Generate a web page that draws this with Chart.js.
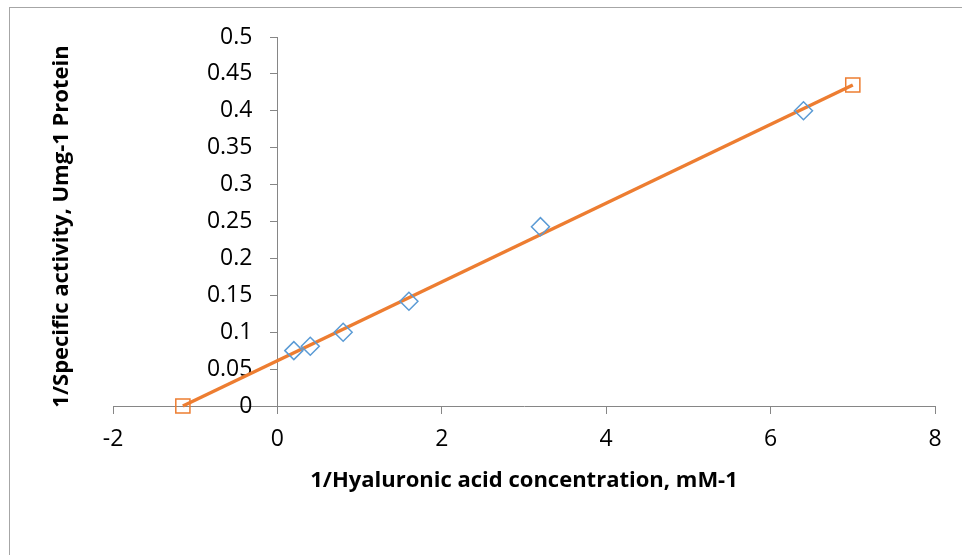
<!DOCTYPE html>
<html>
<head>
<meta charset="utf-8">
<script src="https://cdn.jsdelivr.net/npm/chart.js@4/dist/chart.umd.min.js"></script>
<style>
  body { margin: 0; background: #fff; overflow: hidden; }
  #wrap { position: relative; width: 962px; height: 555px; }
  #frame { position: absolute; left: 9px; top: 7px; width: 1100px; height: 700px; border: 1px solid #a6a6a6; }
  canvas { position: absolute; left: 0; top: 0; }
</style>
</head>
<body>
<div id="wrap">
  <div id="frame"></div>
  <canvas id="plot" width="962" height="555"></canvas>
</div>
<script>
// measured points
const xValues = [0.2, 0.4, 0.8, 1.6, 3.2, 6.4];
const yValues = [0.075, 0.081, 0.1, 0.142, 0.243, 0.4];
// fitted line end points
const lineX = [-1.15, 7];
const lineY = [0, 0.435];
// tick labels
const xTicks = [-2, 0, 2, 4, 6, 8];
const yTicks = [0, 0.05, 0.1, 0.15, 0.2, 0.25, 0.3, 0.35, 0.4, 0.45, 0.5];

const xTitle = '1/Hyaluronic acid concentration, mM-1';
const yTitle = '1/Specific activity, Umg-1 Protein';

const FONT = '"Open Sans", "Noto Sans", sans-serif';

// a y axis sitting at x = 0 puts its labels on the line, push them left of the tick marks
class CrossLinear extends Chart.LinearScale {
  static id = 'crossLinear';
  static defaults = Chart.LinearScale.defaults;
  _computeLabelItems(chartArea) {
    const items = super._computeLabelItems(chartArea);
    if (this.axis === 'y') {
      const shift = this.options.grid.tickLength + this.options.ticks.padding;
      items.forEach(it => { it.options.translation[0] -= shift; });
    }
    return items;
  }
}
Chart.register(CrossLinear);

// axis titles drawn beside the chart area
const titles = {
  id: 'titles',
  afterDraw(chart) {
    const { ctx, chartArea } = chart;
    ctx.save();
    ctx.fillStyle = '#000';
    ctx.font = 'bold 22px ' + FONT;
    ctx.textAlign = 'center';
    ctx.textBaseline = 'middle';
    ctx.fillText(xTitle, (chartArea.left + chartArea.right) / 2, chartArea.bottom + 75);
    ctx.translate(chartArea.left - 51, (chartArea.top + chartArea.bottom) / 2 + 5);
    ctx.rotate(-Math.PI / 2);
    ctx.fillText(yTitle, 0, 0);
    ctx.restore();
  }
};

function toPoints(xs, ys) {
  return xs.map((x, i) => ({ x: x, y: ys[i] }));
}

new Chart(document.getElementById('plot'), {
  type: 'scatter',
  data: {
    datasets: [
      {
        label: 'data',
        data: toPoints(xValues, yValues),
        pointStyle: 'rectRot',
        pointRadius: 9,
        pointBorderWidth: 1.5,
        borderColor: '#5b9bd5',
        backgroundColor: 'rgba(0,0,0,0)',
        showLine: false,
        clip: false,
        order: 0
      },
      {
        label: 'fit',
        data: toPoints(lineX, lineY),
        pointStyle: 'rect',
        pointRadius: 10,
        pointBorderWidth: 1.5,
        pointBorderColor: '#ed7d31',
        pointBackgroundColor: 'rgba(0,0,0,0)',
        borderColor: '#ed7d31',
        borderWidth: 3.5,
        showLine: true,
        clip: false,
        order: 1
      }
    ]
  },
  options: {
    responsive: false,
    animation: false,
    layout: { padding: { left: 113, right: 27, top: 37, bottom: 149 } },
    plugins: { legend: { display: false }, tooltip: { enabled: false } },
    scales: {
      x: {
        type: 'linear',
        position: { y: 0 },
        min: -2,
        max: 8,
        afterBuildTicks: (s) => { s.ticks = xTicks.map(v => ({ value: v })); },
        grid: { drawOnChartArea: false, drawTicks: true, tickLength: 7, color: '#868686' },
        border: { color: '#868686', width: 1 },
        ticks: {
          color: '#000',
          font: { family: FONT, size: 23 },
          padding: 13,
          maxRotation: 0,
          callback: (v) => String(v)
        }
      },
      y: {
        type: 'crossLinear',
        position: { x: 0 },
        min: 0,
        max: 0.5,
        afterBuildTicks: (s) => { s.ticks = yTicks.map(v => ({ value: v })); },
        grid: { drawOnChartArea: false, drawTicks: true, tickLength: 7, color: '#868686' },
        border: { color: '#868686', width: 1 },
        ticks: {
          color: '#000',
          font: { family: FONT, size: 23 },
          padding: 18,
          callback: (v) => String(+v.toFixed(2))
        }
      }
    }
  },
  plugins: [titles]
});
</script>
</body>
</html>
